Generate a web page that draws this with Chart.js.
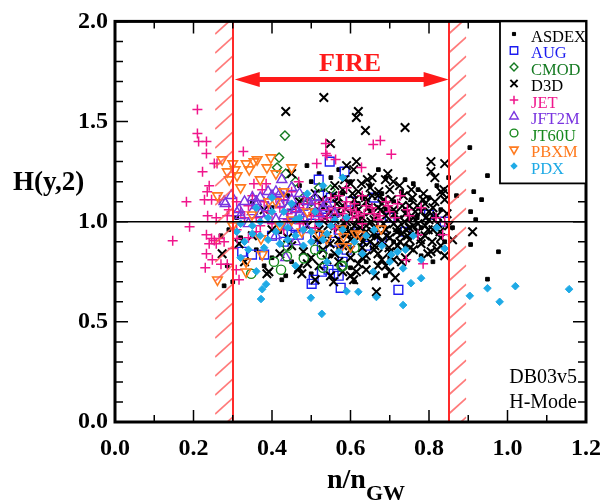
<!DOCTYPE html>
<html>
<head>
<meta charset="utf-8">
<script src="https://cdn.jsdelivr.net/npm/chart.js@4.4.1/dist/chart.umd.min.js"></script>
<style>
  html, body { margin: 0; padding: 0; background: #fff; }
</style>
</head>
<body>
<canvas id="chart" width="613" height="502"></canvas>
<script>
// n/nGW vs H(y,2) points, one array per device
const asdex = [[0.949,1.23],[0.914,1.15],[0.934,1.11],[0.906,1.05],[0.919,1.01],[0.906,0.886],[0.977,0.85],
  [0.949,0.713],[0.904,1.37],[0.739,1.21],[0.772,1.16],[0.754,1.11],[0.671,1.26],[0.489,1.28],[0.278,0.68],
  [0.30,0.70],[0.286,0.78],[0.425,0.71],[0.435,0.73],[0.689,0.73],[0.40,1.07],[0.44,1.13],[0.47,1.18],
  [0.50,1.20],[0.53,1.16],[0.55,1.22],[0.58,1.14],[0.60,1.20],[0.63,1.12],[0.65,1.18],[0.68,1.14],[0.71,1.10],
  [0.74,1.06],[0.77,1.02],[0.80,1.12],[0.83,1.06],[0.86,0.97],[0.52,0.90],[0.55,0.83],[0.60,0.77],[0.64,0.80],
  [0.70,0.82],[0.74,0.88],[0.78,0.83],[0.81,0.80],[0.45,0.80],[0.38,0.78],[0.32,0.92],[0.29,0.96],[0.35,1.10],
  [0.56,1.03],[0.59,0.97],[0.62,1.09],[0.66,0.93],[0.69,1.06],[0.72,0.95],[0.75,1.01],[0.78,0.97],[0.81,1.03],
  [0.84,0.90],[0.57,0.87],[0.63,0.91],[0.67,1.03],[0.71,0.90],[0.46,1.08],[0.42,0.95],[0.36,0.86],[0.31,1.02],
  [0.27,0.93],[0.73,1.15],[0.76,1.19],[0.82,1.18],[0.85,1.22],[0.87,1.13],[0.69,1.22],[0.57,1.26],[0.52,1.24],
  [0.61,0.70],[0.50,0.74],[0.40,0.82]];
const aug = [[0.547,1.30],[0.519,1.21],[0.585,1.25],[0.80,1.035],[0.722,0.66],[0.575,0.67],[0.501,0.69],
  [0.506,0.71],[0.544,0.76],[0.557,0.74],[0.527,0.75],[0.57,0.73],[0.527,0.876],[0.468,0.935],[0.324,0.85],
  [0.349,0.836],[0.38,0.836],[0.45,0.935],[0.84,1.0],[0.48,1.08],[0.55,1.12],[0.60,1.10],[0.50,0.99],
  [0.56,0.90],[0.62,0.95],[0.43,0.90],[0.58,0.80],[0.66,1.12],[0.46,0.97],[0.51,0.93],[0.53,1.02],[0.57,0.96],
  [0.59,0.86],[0.64,0.88],[0.68,0.92],[0.70,1.02],[0.74,0.95],[0.52,1.13],[0.45,1.04],[0.40,0.93]];
const cmod = [[0.433,1.43],[0.418,1.32],[0.413,1.27],[0.435,1.24],[0.549,1.16],[0.46,1.20],[0.48,1.12],
  [0.52,1.17],[0.44,1.07],[0.50,1.10]];
const d3d = [[0.532,1.62],[0.620,1.55],[0.615,1.52],[0.638,1.455],[0.739,1.47],[0.549,1.39],[0.435,1.55],
  [0.590,1.28],[0.615,1.30],[0.608,1.26],[0.805,1.30],[0.840,1.29],[0.805,1.25],[0.815,1.22],[0.643,1.21],
  [0.689,1.21],[0.709,1.20],[0.785,1.11],[0.830,1.15],[0.840,1.11],[0.450,1.24],[0.468,0.77],[0.476,0.74],
  [0.510,0.71],[0.549,0.73],[0.557,0.70],[0.608,0.71],[0.666,0.65],[0.663,0.73],[0.714,0.72],[0.615,0.75],
  [0.797,0.84],[0.805,0.85],[0.742,0.96],[0.838,1.16],[0.835,1.14],[0.830,0.88],[0.911,0.95],[0.273,0.84],
  [0.316,0.89],[0.392,0.75],[0.387,0.74],[0.466,0.76],
  [0.56,1.18],[0.58,1.16],[0.60,1.19],[0.62,1.15],[0.65,1.17],[0.67,1.13],[0.70,1.16],[0.57,1.12],[0.61,1.11],
  [0.64,1.10],[0.68,1.09],[0.53,1.07],[0.55,1.05],[0.58,1.08],[0.60,1.04],[0.62,1.06],[0.63,1.02],[0.65,1.05],
  [0.66,1.01],[0.69,1.03],[0.71,1.06],[0.72,1.01],[0.74,1.04],[0.76,1.02],[0.78,1.05],[0.80,1.01],[0.82,1.03],
  [0.56,1.01],[0.59,1.00],[0.67,1.07],[0.75,1.08],[0.79,1.09],[0.81,1.07],[0.52,0.96],[0.54,0.93],[0.57,0.97],
  [0.59,0.94],[0.61,0.98],[0.62,0.92],[0.64,0.95],[0.66,0.97],[0.67,0.93],[0.69,0.96],[0.70,0.92],[0.72,0.97],
  [0.73,0.94],[0.75,0.91],[0.77,0.95],[0.79,0.93],[0.81,0.96],[0.83,0.92],[0.85,0.98],[0.60,0.91],[0.65,0.90],
  [0.71,0.99],[0.76,0.98],[0.53,0.86],[0.56,0.84],[0.58,0.88],[0.60,0.82],[0.63,0.87],[0.64,0.83],[0.66,0.86],
  [0.68,0.81],[0.70,0.85],[0.72,0.88],[0.74,0.82],[0.76,0.86],[0.78,0.89],[0.57,0.80],[0.62,0.79],[0.69,0.78],
  [0.73,0.80],[0.50,0.82],[0.48,0.85],[0.45,0.88],[0.42,0.84],[0.38,1.06],[0.40,0.96],[0.44,0.92],[0.47,1.10],
  [0.49,0.98],[0.51,1.14],[0.35,0.93],[0.33,0.80],
  [0.555,1.13],[0.565,1.09],[0.575,1.04],[0.585,0.99],[0.595,0.95],[0.605,1.14],[0.612,1.08],[0.618,1.01],
  [0.625,0.97],[0.632,0.90],[0.638,1.12],[0.645,1.07],[0.652,1.00],[0.658,0.94],[0.662,0.88],[0.672,1.15],
  [0.678,1.06],[0.684,0.99],[0.692,0.93],[0.698,0.87],[0.705,1.11],[0.712,1.04],[0.718,0.95],[0.726,0.90],
  [0.732,1.08],[0.738,1.00],[0.745,0.93],[0.752,0.87],[0.758,1.12],[0.765,1.05],[0.772,0.99],[0.778,0.91],
  [0.786,1.14],[0.792,1.02],[0.798,0.96],[0.808,0.90],[0.815,1.10],[0.822,0.99],[0.828,0.95],[0.846,1.04],
  [0.543,0.98],[0.548,0.89],[0.535,1.02],[0.527,1.11],[0.515,0.91],[0.505,1.05],[0.585,1.21],[0.628,1.19],
  [0.655,1.22],[0.695,1.24],[0.725,1.18],[0.755,1.16],[0.63,0.82],[0.67,0.84],[0.71,0.81],[0.60,0.86],
  [0.655,1.13],[0.685,1.11],[0.735,1.13],[0.77,1.08],[0.80,1.05],[0.57,0.91],[0.61,0.95],[0.64,0.98],
  [0.68,0.90],[0.75,0.97],[0.79,0.98],[0.82,0.86],[0.84,0.83],[0.86,0.91],[0.49,0.79],[0.52,0.78],[0.54,0.81],
  [0.58,0.75],[0.60,0.73],[0.64,0.76],[0.67,0.78],[0.70,0.75]];
const jet = [[0.21,1.56],[0.21,1.44],[0.213,1.40],[0.233,1.40],[0.233,1.34],[0.223,1.25],[0.253,1.29],
  [0.26,1.29],[0.327,1.35],[0.24,1.18],[0.235,1.15],[0.228,1.11],[0.246,1.11],[0.182,1.10],[0.266,1.11],
  [0.354,1.19],[0.375,1.16],[0.385,1.19],[0.236,1.03],[0.258,1.02],[0.286,1.03],[0.19,0.975],[0.147,0.905],
  [0.233,0.935],[0.246,0.916],[0.253,0.906],[0.266,0.916],[0.24,0.89],[0.258,0.89],[0.278,0.90],[0.233,0.84],
  [0.248,0.81],[0.23,0.77],[0.27,0.787],[0.286,0.787],[0.311,0.916],[0.30,0.866],[0.309,0.76],[0.316,0.71],
  [0.537,1.39],[0.537,1.34],[0.54,1.33],[0.514,1.29],[0.562,1.31],[0.658,1.386],[0.676,1.406],[0.704,1.337],
  [0.628,1.27],[0.468,1.20],[0.59,1.17],[0.727,1.13],[0.696,1.08],[0.714,1.02],[0.772,0.935],[0.742,0.81],
  [0.785,0.79],[0.818,1.02],[0.84,1.00],[0.835,0.935],[0.562,0.965],
  [0.32,1.05],[0.34,1.08],[0.36,1.02],[0.38,1.10],[0.40,1.04],[0.42,1.07],[0.44,1.01],[0.46,1.05],[0.48,1.09],
  [0.50,1.03],[0.52,1.06],[0.54,1.02],[0.56,1.07],[0.58,1.04],[0.60,1.06],[0.62,1.03],[0.64,1.08],[0.66,1.04],
  [0.35,1.13],[0.41,1.12],[0.45,1.15],[0.49,1.12],[0.53,1.10],[0.57,1.13],[0.61,1.09],[0.37,0.98],[0.43,0.96],
  [0.47,0.99],[0.51,0.97],[0.55,1.00],[0.59,1.01],[0.63,0.99],[0.67,1.01],[0.70,1.05],[0.745,1.06],[0.78,1.07],
  [0.505,1.045],[0.525,1.03],[0.545,1.06],[0.565,1.04],[0.585,1.07],[0.605,1.02],[0.615,1.05],[0.635,1.04],
  [0.655,1.07],[0.675,1.03],[0.31,1.10],[0.33,1.02],[0.39,1.05],[0.43,1.11],[0.47,1.07],[0.51,1.09],[0.55,1.12],
  [0.59,1.10],[0.63,1.13],[0.36,0.95],[0.40,0.99],[0.44,1.04],[0.48,1.00],[0.52,1.01],[0.69,1.10],[0.72,1.09],
  [0.75,1.03],[0.31,0.96],[0.34,0.92],[0.29,1.06]];
const jft2m = [[0.278,1.10],[0.296,1.13],[0.425,1.21],[0.41,1.15],[0.316,1.06],[0.311,1.045],[0.36,1.08],
  [0.281,1.09],[0.435,0.82],[0.33,1.10],[0.35,1.05],[0.37,1.12],[0.39,1.07],[0.40,1.13],[0.42,1.09],[0.43,1.03],
  [0.45,1.11],[0.46,1.06],[0.47,1.14],[0.48,1.02],[0.50,1.08],[0.51,1.12],[0.52,1.04],[0.38,1.01],[0.44,0.98],
  [0.49,0.96],[0.34,0.99],[0.54,1.09],[0.41,0.93],[0.46,0.90],[0.32,1.03],[0.36,1.10],[0.39,1.15],[0.43,1.12],
  [0.44,1.07],[0.47,1.04],[0.49,1.10],[0.53,1.07],[0.37,1.04],[0.41,1.01],[0.42,1.14],[0.45,1.17],[0.35,1.12],
  [0.56,1.04]];
const jt60u = [[0.405,0.80],[0.423,0.76],[0.438,0.827],[0.347,0.74],[0.481,0.817],[0.527,0.836],[0.577,0.777],
  [0.53,0.77],[0.58,0.78],[0.44,0.88],[0.51,0.86],[0.61,0.87]];
const pbxm = [[0.273,1.31],[0.30,1.29],[0.306,1.26],[0.286,1.25],[0.291,1.21],[0.311,1.23],[0.334,1.29],
  [0.354,1.30],[0.362,1.31],[0.342,1.26],[0.397,1.32],[0.387,1.27],[0.41,1.24],[0.45,1.27],[0.261,1.13],
  [0.392,1.10],[0.41,1.10],[0.261,0.71],[0.334,0.80],[0.334,0.75],[0.375,0.836],[0.349,1.035],[0.372,0.916],
  [0.476,0.95],[0.519,0.94],[0.539,0.916],[0.577,0.965],[0.577,0.876],[0.60,0.876],[0.582,0.926],[0.613,0.94],
  [0.625,0.935],[0.678,0.965],[0.45,1.01],[0.32,1.17],[0.37,1.21],[0.43,1.15],[0.30,0.98],[0.42,0.98],[0.49,1.05]];
const pdx = [[0.949,0.668],[1.02,0.678],[1.157,0.663],[0.98,0.60],[0.904,0.63],[0.499,0.62],[0.527,0.54],
  [0.62,0.65],[0.666,0.624],[0.734,0.584],[0.754,0.693],[0.78,0.718],[0.59,0.653],[0.84,0.866],[0.658,0.75],
  [0.734,0.767],[0.704,0.836],[0.375,0.663],[0.372,0.614],[0.385,0.688],[0.36,0.752],
  [0.31,0.95],[0.33,0.90],[0.34,0.86],[0.35,0.98],[0.37,0.93],[0.38,0.87],[0.39,1.02],[0.41,0.95],[0.42,0.89],
  [0.43,1.05],[0.44,0.97],[0.46,0.93],[0.47,1.02],[0.48,0.88],[0.50,0.95],[0.51,1.05],[0.53,0.91],[0.55,0.98],
  [0.57,0.85],[0.59,1.02],[0.63,0.84],[0.68,0.88],[0.72,0.85],[0.76,0.93],[0.82,0.97],[0.36,1.07],[0.40,1.12],
  [0.45,1.09],[0.49,1.14],[0.53,1.18],[0.58,1.22],[0.32,0.82],[0.54,0.80],[0.46,0.78],
  [0.32,0.99],[0.35,0.94],[0.37,1.00],[0.39,0.91],[0.40,1.05],[0.42,0.99],[0.44,0.91],[0.46,1.01],[0.48,0.96],
  [0.50,0.90],[0.52,0.99],[0.54,0.94],[0.56,1.01],[0.58,0.96],[0.61,0.90],[0.64,0.93],[0.70,0.80],[0.74,0.86],
  [0.78,0.81],[0.66,0.96]];

const seriesNames = ['ASDEX', 'AUG', 'CMOD', 'D3D', 'JET', 'JFT2M', 'JT60U', 'PBXM', 'PDX'];
const seriesData = [asdex, aug, cmod, d3d, jet, jft2m, jt60u, pbxm, pdx];
const xTickLabels = ['0.0', '0.2', '0.4', '0.6', '0.8', '1.0', '1.2'];
const yTickLabels = ['0.0', '0.5', '1.0', '1.5', '2.0'];
const fireRange = [0.30, 0.85];   // FIRE operating window in n/nGW
const fireArrowY = 1.71;

// marker looks, same order as seriesNames (z: lower = drawn on top)
const markers = [
  { style: 'rect',     r: 2.6, color: '#000',    fill: '#000',        w: 1,   rot: 0,   z: 9 },
  { style: 'rect',     r: 6.2, color: '#1c1cf0', fill: 'transparent', w: 1.4, rot: 0,   z: 8 },
  { style: 'rectRot',  r: 4.6, color: '#157a22', fill: 'transparent', w: 1.4, rot: 0,   z: 7 },
  { style: 'crossRot', r: 6,   color: '#000',    fill: 'transparent', w: 2,   rot: 0,   z: 6 },
  { style: 'cross',    r: 5,   color: '#f0168c', fill: 'transparent', w: 1.5, rot: 0,   z: 5 },
  { style: 'triangle', r: 5.8, color: '#7a35e0', fill: 'transparent', w: 1.4, rot: 0,   z: 4 },
  { style: 'circle',   r: 4.6, color: '#16881c', fill: 'transparent', w: 1.4, rot: 0,   z: 3 },
  { style: 'triangle', r: 5.5, color: '#ff7a1e', fill: 'transparent', w: 1.6, rot: 180, z: 2 },
  { style: 'rectRot',  r: 3.8, color: '#1eaae6', fill: '#1eaae6',     w: 1,   rot: 0,   z: 1 }
];
const textColors = ['#000', '#1c1cf0', '#157a22', '#000', '#f0168c', '#7a35e0', '#16881c', '#ff7a1e', '#1eaae6'];

const SERIF = '"Liberation Serif", "Times New Roman", serif';

const datasets = seriesNames.map((name, i) => ({
  label: name,
  data: seriesData[i].map(p => ({ x: p[0], y: p[1] })),
  pointStyle: markers[i].style,
  pointRadius: markers[i].r,
  pointBorderColor: markers[i].color,
  pointBackgroundColor: markers[i].fill,
  pointBorderWidth: markers[i].w,
  pointRotation: markers[i].rot,
  order: markers[i].z,
  showLine: false
}));

const decorations = {
  id: 'decorations',
  afterDatasetsDraw(chart) {
    const { ctx, chartArea: a, scales: { x, y } } = chart;
    ctx.save();

    // hatched edges of the FIRE window
    const bands = [[0.255, fireRange[0]], [fireRange[1], 0.895]];
    bands.forEach(([lo, hi]) => {
      const x0 = x.getPixelForValue(lo), x1 = x.getPixelForValue(hi);
      ctx.save();
      ctx.beginPath();
      ctx.rect(x0, a.top, x1 - x0, a.bottom - a.top);
      ctx.clip();
      ctx.strokeStyle = 'rgba(255, 90, 90, 0.8)';
      ctx.lineWidth = 1.7;
      for (let yy = a.bottom + 30; yy > a.top - 30; yy -= 19) {
        ctx.beginPath();
        ctx.moveTo(x0, yy);
        ctx.lineTo(x1, yy - (x1 - x0) * 0.9);
        ctx.stroke();
      }
      ctx.restore();
    });

    ctx.strokeStyle = '#ff2a2a';
    ctx.lineWidth = 2;
    fireRange.forEach(v => {
      const px = Math.round(x.getPixelForValue(v));
      ctx.beginPath();
      ctx.moveTo(px, a.top);
      ctx.lineTo(px, a.bottom);
      ctx.stroke();
    });

    // H = 1 reference
    const y1 = y.getPixelForValue(1.0);
    ctx.strokeStyle = '#000';
    ctx.lineWidth = 1.5;
    ctx.beginPath();
    ctx.moveTo(a.left, y1);
    ctx.lineTo(a.right, y1);
    ctx.stroke();

    // double arrow + label
    const ax0 = x.getPixelForValue(fireRange[0]) + 2;
    const ax1 = x.getPixelForValue(fireRange[1]);
    const ay = y.getPixelForValue(fireArrowY);
    ctx.strokeStyle = '#ff1a1a';
    ctx.fillStyle = '#ff1a1a';
    ctx.lineWidth = 5;
    ctx.beginPath();
    ctx.moveTo(ax0 + 20, ay);
    ctx.lineTo(ax1 - 20, ay);
    ctx.stroke();
    [[ax0, 1], [ax1, -1]].forEach(([tip, dir]) => {
      ctx.beginPath();
      ctx.moveTo(tip, ay);
      ctx.lineTo(tip + dir * 25, ay - 7.5);
      ctx.lineTo(tip + dir * 25, ay + 7.5);
      ctx.closePath();
      ctx.fill();
    });
    ctx.font = 'bold 26px ' + SERIF;
    ctx.textAlign = 'center';
    ctx.textBaseline = 'alphabetic';
    ctx.fillText('FIRE', 350, 71);

    ctx.restore();
  },
  afterDraw(chart) {
    const { ctx, chartArea: a, scales: { x, y } } = chart;
    ctx.save();

    // inward ticks on all four sides
    ctx.strokeStyle = '#000';
    ctx.lineWidth = 1.5;
    for (let k = 0; k <= 12; k++) {
      const px = x.getPixelForValue(k / 10);
      const len = k % 2 === 0 ? 12 : 7;
      ctx.beginPath();
      ctx.moveTo(px, a.bottom); ctx.lineTo(px, a.bottom - len);
      ctx.moveTo(px, a.top); ctx.lineTo(px, a.top + len);
      ctx.stroke();
    }
    for (let k = 0; k <= 20; k++) {
      const py = y.getPixelForValue(k / 10);
      const len = k % 5 === 0 ? 13 : 8;
      ctx.beginPath();
      ctx.moveTo(a.left, py); ctx.lineTo(a.left + len, py);
      ctx.moveTo(a.right, py); ctx.lineTo(a.right - len, py);
      ctx.stroke();
    }

    // frame
    ctx.lineWidth = 3;
    ctx.strokeRect(a.left, a.top, a.right - a.left, a.bottom - a.top);

    // legend box
    const lx = 500, ly = a.top, lw = a.right - lx, lh = 162;
    ctx.fillStyle = '#fff';
    ctx.fillRect(lx, ly, lw, lh);
    ctx.lineWidth = 1.8;
    ctx.strokeStyle = '#000';
    ctx.strokeRect(lx, ly, lw, lh);
    ctx.font = '16.5px ' + SERIF;
    ctx.textAlign = 'left';
    ctx.textBaseline = 'alphabetic';
    seriesNames.forEach((name, i) => {
      const m = markers[i];
      const my = 34 + i * 16.5;
      ctx.strokeStyle = m.color;
      ctx.fillStyle = m.fill;
      ctx.lineWidth = m.w;
      Chart.helpers.drawPoint(ctx, {
        pointStyle: m.style, radius: i === 0 ? 2.2 : m.r * 0.85,
        rotation: m.rot, borderWidth: m.w
      }, 514, my);
      ctx.fillStyle = textColors[i];
      ctx.fillText(name, 531, 42 + i * 16.45);
    });

    // database tag
    ctx.fillStyle = '#000';
    ctx.font = '20px ' + SERIF;
    ctx.textAlign = 'right';
    ctx.fillText('DB03v5', 577, 383);
    ctx.fillText('H-Mode', 577, 408);

    // axis titles
    ctx.textAlign = 'left';
    ctx.font = 'bold 27px ' + SERIF;
    ctx.fillText('H(y,2)', 13, 190);
    ctx.font = 'bold 28px ' + SERIF;
    ctx.fillText('n/n', 327, 488);
    const wn = ctx.measureText('n/n').width;
    ctx.font = 'bold 22px ' + SERIF;
    ctx.fillText('GW', 327 + wn, 500);

    ctx.restore();
  }
};

new Chart(document.getElementById('chart'), {
  type: 'scatter',
  data: { datasets },
  options: {
    responsive: false,
    animation: false,
    events: [],
    layout: { padding: { top: 18, right: 23, left: 0, bottom: 0 } },
    scales: {
      x: {
        type: 'linear', min: 0, max: 1.2,
        afterFit: s => { s.height = 80; },
        grid: { display: false, drawTicks: false },
        border: { display: false },
        ticks: {
          stepSize: 0.2, padding: 12, color: '#000', maxRotation: 0,
          font: { family: SERIF, size: 24, weight: 'bold' },
          callback: v => xTickLabels[Math.round(v / 0.2)]
        }
      },
      y: {
        type: 'linear', min: 0, max: 2,
        afterFit: s => { s.width = 115; },
        grid: { display: false, drawTicks: false },
        border: { display: false },
        ticks: {
          stepSize: 0.5, padding: 7, color: '#000',
          font: { family: SERIF, size: 24, weight: 'bold' },
          callback: v => yTickLabels[Math.round(v / 0.5)]
        }
      }
    },
    plugins: {
      legend: { display: false },
      tooltip: { enabled: false }
    }
  },
  plugins: [decorations]
});
</script>
</body>
</html>
